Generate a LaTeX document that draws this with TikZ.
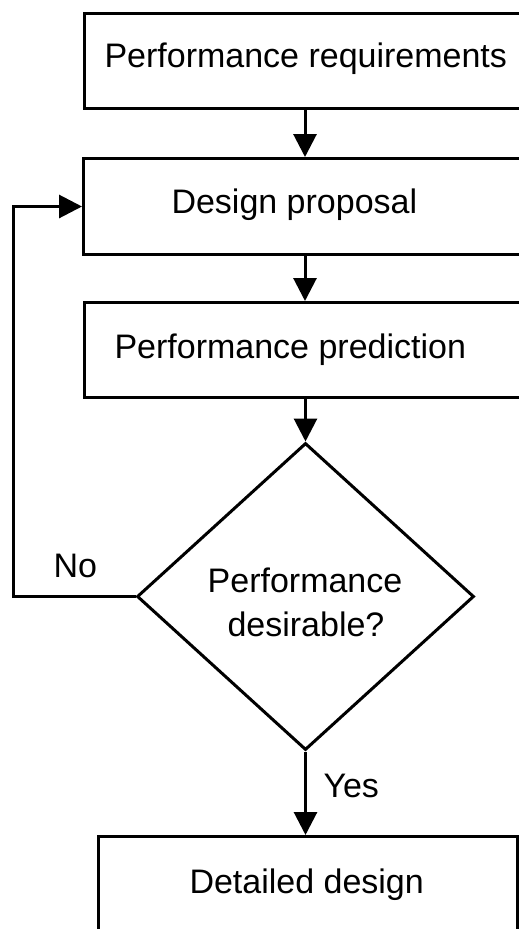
\documentclass[tikz,border=0pt]{standalone}
\usepackage{fontspec}
\setmainfont{Liberation Sans}
\usetikzlibrary{arrows.meta,shapes.geometric}
\begin{document}
\begin{tikzpicture}[x=1pt,y=-1pt,
  line width=3pt,
  boxnode/.style={draw, rectangle, inner sep=0pt, anchor=north west},
  decnode/.style={draw, diamond, inner sep=0pt, minimum width=337pt, minimum height=307pt},
  txt/.style={font=\fontsize{34}{40}\selectfont, inner sep=0pt, anchor=base west},
  arr/.style={-{Triangle[length=23pt,width=23pt]}}]
\useasboundingbox (0,0) rectangle (519,929);
\clip (0,0) rectangle (519,929);
\node[boxnode, minimum width=444pt, minimum height=95pt] (b1) at (83,12) {};
\node[boxnode, minimum width=445pt, minimum height=96pt] (b2) at (82,157) {};
\node[boxnode, minimum width=444pt, minimum height=95pt] (b3) at (83,301) {};
\node[decnode] (dia) at (305.5,596.5) {};
\node[boxnode, minimum width=419pt, minimum height=130pt] (b4) at (97,835) {};
\node[txt] (t1) at (103,67) {Performance requirements};
\node[txt] (t2) at (170,213) {Design proposal};
\node[txt] (t3) at (113,358) {Performance prediction};
\node[txt, anchor=base] (t4a) at (305,592) {Performance};
\node[txt, anchor=base] (t4b) at (306,636) {desirable?};
\node[txt] (t5) at (188,893) {Detailed design};
\node[txt] (no) at (52,577) {No};
\node[txt] (yes) at (322,797) {Yes};
\coordinate (lx) at (13,0);
\coordinate (fb) at (lx |- dia.west);
\coordinate (s1) at (305,0);
\draw[arr] (s1 |- b1.south) -- (s1 |- b2.north);
\draw[arr] (s1 |- b2.south) -- (s1 |- b3.north);
\draw[arr] (b3.south -| dia.north) -- (dia.north);
\draw[arr] (dia.south) -- (dia.south |- b4.north);
\draw[arr] (dia.west) -- (fb) |- (b2.west);
\end{tikzpicture}
\end{document}
